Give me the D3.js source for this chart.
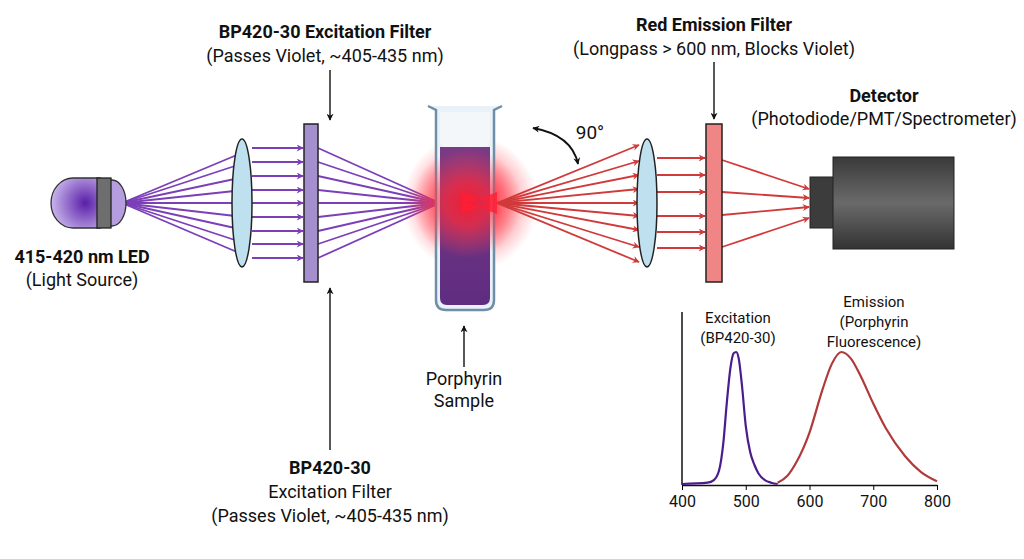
<!DOCTYPE html>
<html><head><meta charset="utf-8">
<script src="https://cdn.jsdelivr.net/npm/d3@7"></script>
<style>body{margin:0;background:#fff}svg{display:block}text{font-family:"Liberation Sans Narrow","Roboto",sans-serif;fill:#111}</style>
</head><body><svg id="c" width="1024" height="559"></svg>
<script>
// Spectrum data (wavelength nm, relative intensity)
const wavelengthTicks = [400, 500, 600, 700, 800];
const excitationNm = [400, 440, 450, 458, 465, 470, 476, 481, 485, 489, 494, 500, 507, 514, 520, 530, 540, 550];
const excitationVal = [0.0, 0.01, 0.03, 0.1, 0.32, 0.6, 0.88, 0.99, 1.0, 0.95, 0.75, 0.44, 0.24, 0.14, 0.08, 0.03, 0.01, 0.0];
const emissionNm = [550, 565, 580, 600, 620, 635, 650, 665, 680, 700, 720, 750, 775, 800];
const emissionVal = [0.01, 0.06, 0.17, 0.39, 0.71, 0.91, 1.0, 0.95, 0.82, 0.61, 0.42, 0.21, 0.09, 0.02];

const svg = d3.select("#c");
const defs = svg.append("defs");
function marker(id, col){
  defs.append("marker").attr("id",id).attr("viewBox","0 0 10 10").attr("refX",9).attr("refY",5)
    .attr("markerWidth",9).attr("markerHeight",7).attr("markerUnits","userSpaceOnUse").attr("orient","auto-start-reverse")
    .append("path").attr("d","M0,0L10,5L0,10L3,5Z").attr("fill",col);
}
marker("av","#7b3fb8"); marker("ar","#d13a3a"); marker("ak","#111");
const rg = defs.append("radialGradient").attr("id","glow");
rg.append("stop").attr("offset","0%").attr("stop-color","#ff1a2a").attr("stop-opacity",1);
rg.append("stop").attr("offset","40%").attr("stop-color","#ff2a3a").attr("stop-opacity",0.8);
rg.append("stop").attr("offset","100%").attr("stop-color","#ff4050").attr("stop-opacity",0);
const lg = defs.append("radialGradient").attr("id","led").attr("cx","70%").attr("cy","50%").attr("r","70%");
lg.append("stop").attr("offset","0%").attr("stop-color","#5a1ea8");
lg.append("stop").attr("offset","100%").attr("stop-color","#c9b6ec");
const liq = defs.append("linearGradient").attr("id","liq").attr("x1",0).attr("x2",0).attr("y1",0).attr("y2",1);
liq.append("stop").attr("offset","0%").attr("stop-color","#7a3a86");
liq.append("stop").attr("offset","100%").attr("stop-color","#5e2c80");
const dg = defs.append("linearGradient").attr("id","det").attr("x1",0).attr("x2",0).attr("y1",0).attr("y2",1);
dg.append("stop").attr("offset","0%").attr("stop-color","#3a3a3a");
dg.append("stop").attr("offset","50%").attr("stop-color","#6a6a6a");
dg.append("stop").attr("offset","100%").attr("stop-color","#333");

function ray(x1,y1,x2,y2,col,m){
  svg.append("line").attr("x1",x1).attr("y1",y1).attr("x2",x2).attr("y2",y2)
   .attr("stroke",col).attr("stroke-width",1.8).attr("marker-end",m?`url(#${m})`:null);
}
const V="#7b3fb8", R="#d13a3a";
const lensIn=[152,163,177,190,203,217,230,243,255];
lensIn.forEach(y=>ray(122,203,244,y,V,"av"));
const par1=[148,162,176,190,203,217,231,244,258];
par1.forEach(y=>ray(252,y,303,y,V,"av"));
par1.forEach(y=>ray(318,y,440,203,V,null));

svg.append("circle").attr("cx",470).attr("cy",203).attr("r",68).attr("fill","url(#glow)").attr("opacity",0.8);
svg.append("path").attr("d","M428,106 L436,110 L436,300 Q436,310 446,310 L484,310 Q494,310 494,300 L494,110 L502,106")
  .attr("fill","#e8f2f8").attr("stroke","#6f8fa8").attr("stroke-width",2.5);
svg.append("path").attr("d","M440,147 L490,147 L490,298 Q490,305 483,305 L447,305 Q440,305 440,298 Z").attr("fill","url(#liq)");
svg.append("path").attr("d","M440,112 L490,112 L490,140 Q490,147 483,147 L447,147 Q440,147 440,140Z").attr("fill","#f3f7fa");
svg.append("circle").attr("cx",467).attr("cy",203).attr("r",55).attr("fill","url(#glow)").attr("opacity",0.9);
svg.append("path").attr("d","M462,192 L490,203 L462,214Z M497,192 L469,203 L497,214Z").attr("fill","#ff1e34").attr("opacity",0.8);

const lens2In=[145,161,175,189,203,216,230,247,262];
lens2In.forEach(y=>ray(497,203,639,y,R,"ar"));
const par2=[158,175,192,216,232,248];
par2.forEach(y=>ray(657,y,705,y,R,"ar"));
const fs=[160,192,215,247], fe=[189,198,207,218];
fs.forEach((y,i)=>ray(722,y,809,fe[i],R,"ar"));

[[242,203],[647,203]].forEach(([x,y])=>svg.append("ellipse").attr("cx",x).attr("cy",y).attr("rx",10).attr("ry",64)
  .attr("fill","#bfe0ef").attr("stroke","#222").attr("stroke-width",1.5));
svg.append("rect").attr("x",304).attr("y",124).attr("width",14).attr("height",158).attr("fill","#a58fcf").attr("stroke","#222").attr("stroke-width",1.5);
svg.append("rect").attr("x",706).attr("y",124).attr("width",16).attr("height",158).attr("fill","#ef8585").attr("stroke","#222").attr("stroke-width",1.5);
svg.append("path").attr("d","M73,178 L100,178 L100,228 L73,228 A22,25 0 0 1 73,178Z").attr("fill","url(#led)").attr("stroke","#333").attr("stroke-width",1.3);
svg.append("path").attr("d","M108,180 L112,180 A14,23 0 0 1 112,226 L108,226Z").attr("fill","#b59ddf").attr("stroke","#333").attr("stroke-width",1.3);
svg.append("rect").attr("x",97).attr("y",178).attr("width",14).attr("height",50).attr("fill","#6e6e6e").attr("stroke","#222").attr("stroke-width",1.3);
svg.append("rect").attr("x",810).attr("y",177).attr("width",24).attr("height",51).attr("fill","#3c3c3c").attr("stroke","#222");
svg.append("rect").attr("x",833).attr("y",157).attr("width",121).attr("height",92).attr("fill","url(#det)").attr("stroke","#222");

function arrow(x,y1,y2){ svg.append("line").attr("x1",x).attr("y1",y1).attr("x2",x).attr("y2",y2).attr("stroke","#111").attr("stroke-width",1.4).attr("marker-end","url(#ak)"); }
arrow(330,70,120); arrow(330,450,288); arrow(714,62,119); arrow(464,367,326);
svg.append("path").attr("d","M533,128 Q572,135 578,164").attr("fill","none").attr("stroke","#111").attr("stroke-width",1.8)
  .attr("marker-end","url(#ak)").attr("marker-start","url(#ak)");

function txt(x,y,s,b,size){ svg.append("text").attr("x",x).attr("y",y).attr("text-anchor","middle").attr("font-size",size||18).attr("font-weight",b?"bold":"normal").text(s); }
txt(325,38,"BP420-30 Excitation Filter",1); txt(325,62,"(Passes Violet, ~405-435 nm)");
txt(330,474,"BP420-30",1); txt(330,498,"Excitation Filter"); txt(330,522,"(Passes Violet, ~405-435 nm)");
txt(714,31,"Red Emission Filter",1); txt(714,55,"(Longpass > 600 nm, Blocks Violet)");
txt(884,102,"Detector",1); txt(884,125,"(Photodiode/PMT/Spectrometer)");
txt(82,263,"415-420 nm LED",1); txt(82,286,"(Light Source)");
txt(464,385,"Porphyrin"); txt(464,407,"Sample");
txt(590,139,"90°",0,19);
txt(738,323,"Excitation",0,15); txt(738,343,"(BP420-30)",0,15);
txt(874,307,"Emission",0,15); txt(874,327,"(Porphyrin",0,15); txt(874,347,"Fluorescence)",0,15);

const x = d3.scaleLinear().domain([400,800]).range([682,937]);
const y = d3.scaleLinear().domain([0,1]).range([484,352]);
svg.append("g").attr("transform","translate(0,485)")
  .call(d3.axisBottom(x).tickValues(wavelengthTicks).tickSize(5).tickSizeOuter(0))
  .call(g=>{g.select(".domain").attr("stroke","#111").attr("stroke-width",1.5);
    g.selectAll("text").attr("font-size",16).attr("dy","0.9em").style("font-family",'"Liberation Sans Narrow","Roboto",sans-serif').attr("fill","#111");});
svg.append("line").attr("x1",682).attr("x2",682).attr("y1",312).attr("y2",485).attr("stroke","#111").attr("stroke-width",1.5);
const line = d3.line().x(d=>x(d[0])).y(d=>y(d[1])).curve(d3.curveMonotoneX);
svg.append("path").attr("d",line(excitationNm.map((n,i)=>[n,excitationVal[i]]))).attr("fill","none").attr("stroke","#4b1c8c").attr("stroke-width",2.2);
svg.append("path").attr("d",line(emissionNm.map((n,i)=>[n,emissionVal[i]]))).attr("fill","none").attr("stroke","#b03a3a").attr("stroke-width",2.2);
</script></body></html>
